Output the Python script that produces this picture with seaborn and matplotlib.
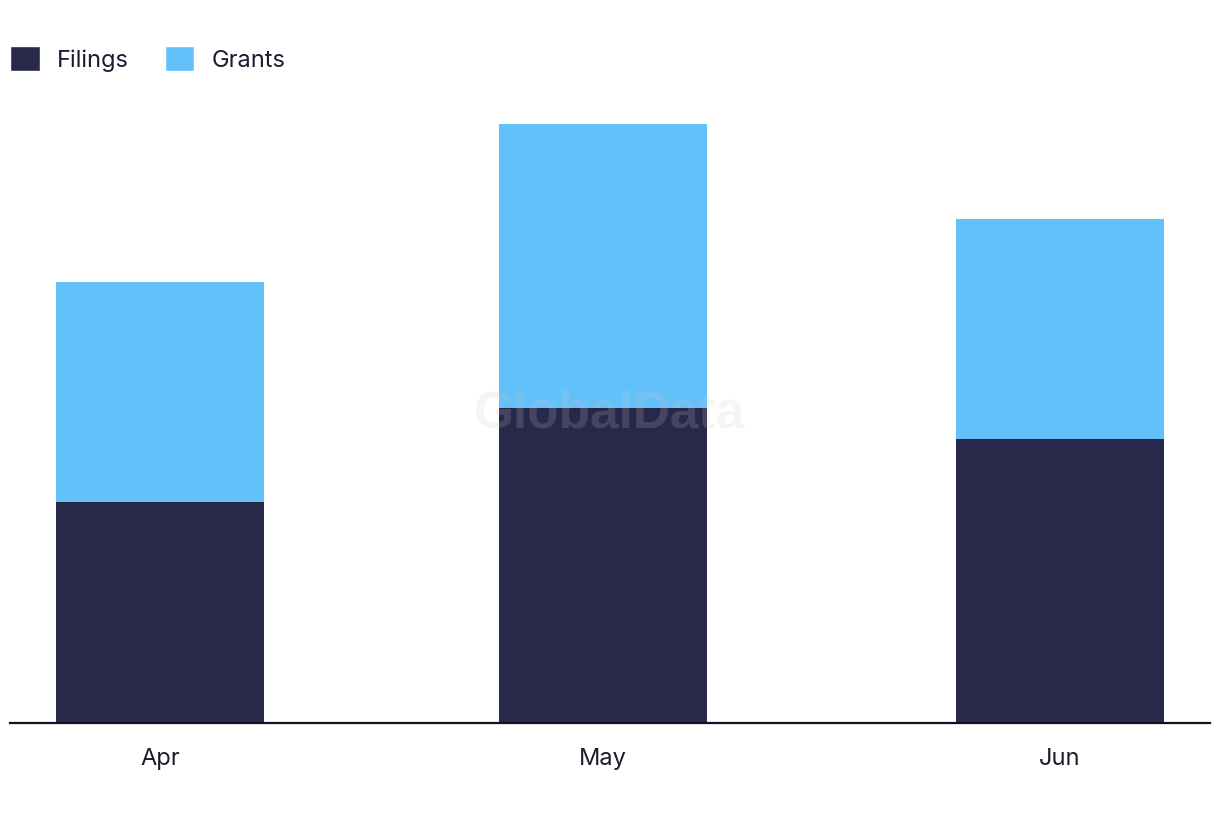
import pandas as pd
import matplotlib
matplotlib.use("Agg")
import matplotlib.pyplot as plt
import seaborn as sns
from matplotlib.patches import Patch

# Monthly patent counts
months = ["Apr", "May", "Jun"]
day_offset = [0, 30, 61]  # days from 1 Apr (date axis)
filings = [7, 10, 9]
grants = [7, 9, 7]

df = pd.DataFrame({"month": months, "day": day_offset,
                   "filings": filings, "grants": grants})
df["total"] = df["filings"] + df["grants"]

navy = "#28284b"
sky = "#62c1f9"
text_col = "#1c1c30"

sns.set_theme(style="white")
plt.rcParams["font.family"] = ["Inter", "DejaVu Sans"]

fig = plt.figure(figsize=(12.2, 8.22), dpi=100)
ax = fig.add_axes([10 / 1220, 1 - 723 / 822, 1200 / 1220, 630 / 822])

# stacked bars: total first, filings on top of it
sns.barplot(data=df, x="day", y="total", native_scale=True, width=0.47,
            color=sky, saturation=1, linewidth=0, ax=ax)
sns.barplot(data=df, x="day", y="filings", native_scale=True, width=0.47,
            color=navy, saturation=1, linewidth=0, ax=ax)

ax.set_xlim(-10.17, 71.17)
ax.set_ylim(0, 20)
ax.set_xticks(df["day"])
ax.set_xticklabels(months, fontsize=17, color=text_col)
ax.tick_params(axis="x", length=0, pad=18)
ax.set_yticks([])
ax.set_xlabel("")
ax.set_ylabel("")
for s in ["top", "right", "left"]:
    ax.spines[s].set_visible(False)
ax.spines["bottom"].set_color("#111122")
ax.spines["bottom"].set_linewidth(1.6)

# watermark
ax.text(0.5, 0.49, "GlobalData", transform=ax.transAxes, ha="center",
        va="center", fontsize=37, fontweight="bold", color="#cccccc",
        alpha=0.18, family=["Liberation Sans", "DejaVu Sans"], zorder=10)

handles = [Patch(facecolor=navy, label="Filings"),
           Patch(facecolor=sky, label="Grants")]
fig.legend(handles=handles, loc="center left",
           bbox_to_anchor=(10 / 1220, 1 - 59 / 822),
           ncol=2, frameon=False, fontsize=17, handlelength=1.25,
           handleheight=1.25, handletextpad=0.75, columnspacing=1.5,
           borderpad=0, borderaxespad=0, labelcolor=text_col)

fig.savefig("out.png", dpi=100)
